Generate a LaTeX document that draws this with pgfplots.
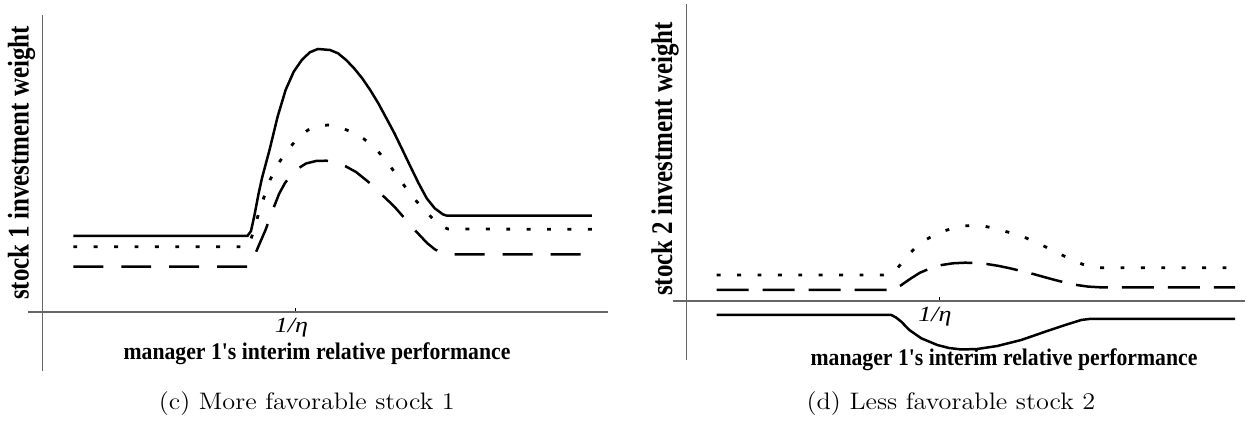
\documentclass[border=0pt]{standalone}
\usepackage{fontspec}
\usepackage{graphicx}
\usepackage{pgfplots}
\pgfplotsset{compat=1.18}
\newfontfamily\tnr{Liberation Serif}

\pgfplotsset{
  panel/.style={
    x=0.4608pt, y=0.4608pt,
    axis lines=middle,
    axis line style={-, draw=black!60, line width=0.6pt},
    enlargelimits=false, clip=false,
    ytick=\empty,
    xtick align=inside, major tick length=1.8pt,
    tick style={black, line width=0.5pt},
    xticklabels={{\scalebox{1.2}[1]{\tnr\itshape\fontsize{10}{12}\selectfont 1/η}}},
    xticklabel style={anchor=center, xshift=-2pt, yshift=-7.4pt},
    xlabel={\scalebox{0.91}[1]{\tnr\bfseries\fontsize{11}{13}\selectfont manager 1\textquotesingle s interim relative performance}},
  },
  solidc/.style={black, line width=1.15pt},
  dotc/.style={black, line width=1.3pt, dash pattern=on 1.8pt off 7.6pt},
}

\pgfplotstableread{
x y
30.6 76
204.7 76
208.3 81
211.8 97
215.8 118
219.3 134
226.8 162
234.9 195.3
242.9 222
251 240.3
259.1 252
267.1 259.7
275.2 263
287.3 262
295.3 258.7
303.4 252
311.4 243.7
319.5 233.7
327.5 222
335.6 208.7
343.7 193.7
351.7 178.7
359.8 162
367.8 145.3
375.9 128.7
384 113.7
392 103.7
400.1 97.7
404.1 96.3
549.2 96.3
}\LeftSolid

\pgfplotstableread{
x y
30.6 65.3
205.3 65.3
209.3 76
214.3 93
220.3 112
227.3 132
235.3 148
244.3 161
254.3 173
265.3 182
275.3 186
285.3 187
297.3 184.5
309.3 180
321.3 173
333.3 163
345.3 149
357.3 132
369.3 116
381.3 102
391.3 92
399.3 85.5
405.3 83
549.2 82.7
}\LeftDot

\pgfplotstableread{
x y
30.6 45.3
205.3 45.3
210.7 53.7
216.3 67
222.8 82
229.3 100
236.3 118
242.3 129
247.3 135.5
255.3 143.5
263.3 148.5
273.3 151
283.3 151.3
293.3 150
303.3 145.5
313.3 140
323.3 132
329.3 127
337.3 119
346.3 110.5
353.3 103.5
360.3 95.5
368.3 86
376.3 77.5
384.3 69
392.3 62.5
400.3 59
408.3 57.7
549.2 57.7
}\LeftDash

\pgfplotstableread{
x y
30 -14
204.6 -14
209.3 -16.5
214.6 -20.7
222.6 -29
234.6 -37.3
250.6 -44
262.3 -47
274.6 -48.5
290.6 -48
310.6 -45
334.5 -39
358.5 -30.7
378.5 -24
394.5 -19
402.5 -18
548.4 -18
}\RightSolid

\pgfplotstableread{
x y
30 26
196.3 26
203.3 27.5
210.3 32.5
217.3 40.5
223.3 48
231.3 55.5
240 61.7
248.3 66.5
258.3 70.3
267.3 73.2
276.3 75.1
286.3 75.5
296.6 75
306.3 73
316.3 70.3
326.3 67.5
336.3 64.3
345.3 60.5
355 56
364.3 51.5
373.3 47
382.3 42.5
391.6 38.3
400.3 35.2
408.3 33.6
413.3 33.3
548.4 33.3
}\RightDot

\pgfplotstableread{
x y
30 11
201.3 11
207.3 12.2
214 15.5
223.3 22
233.3 28.3
243.3 32.5
255 36
266.3 37.7
278.3 38.3
289.3 38
300 37
311.3 35.2
323.3 32.7
334.3 30
346.6 27
357.3 24
368.3 21
379.3 18.2
390 16
401.3 14.4
413.3 13.7
548.4 13.7
}\RightDash

\begin{document}
\begin{tikzpicture}
\path (0,0) rectangle (578.76pt,-194.46pt);

\begin{axis}[panel,
  at={(19.68pt,-143.77pt)}, anchor=origin,
  xmin=-14.9, xmax=565.3, ymin=-59, ymax=297,
  xtick={253.0},
  ylabel={\scalebox{1}[1.2]{\tnr\bfseries\fontsize{11.5}{13}\selectfont stock 1 investment weight}},
  xlabel style={at={(axis description cs:0.4984,0.0478)}, anchor=center},
  ylabel style={at={(axis description cs:-0.01086,0.5843)}, anchor=center, rotate=90},
]
\addplot[solidc] table {\LeftSolid};
\addplot[dotc] table {\LeftDot};
\addplot[black, line width=1.15pt, dash pattern=on 13.8pt off 8.3pt] table {\LeftDash};
\node[anchor=base] at (axis cs:264.1,-97.5) {\scalebox{1.1}[1]{\fontsize{11}{13}\selectfont (c) More favorable stock 1}};
\end{axis}

\begin{axis}[panel,
  at={(316.43pt,-138.70pt)}, anchor=origin,
  xmin=-14, xmax=558.4, ymin=-59, ymax=297,
  xtick={252.6},
  ylabel={\scalebox{1}[1.2]{\tnr\bfseries\fontsize{11.5}{13}\selectfont stock 2 investment weight}},
  xlabel style={at={(axis description cs:0.5788,0)}, anchor=center},
  ylabel style={at={(axis description cs:-0.01345,0.5646)}, anchor=center, rotate=90},
]
\addplot[solidc] table {\RightSolid};
\addplot[dotc] table {\RightDot};
\addplot[black, line width=1.15pt, dash pattern=on 14.7pt off 6.5pt] table {\RightDash};
\node[anchor=base] at (axis cs:264.3,-108.5) {\scalebox{1.1}[1]{\fontsize{11}{13}\selectfont (d) Less favorable stock 2}};
\end{axis}
\end{tikzpicture}
\end{document}
